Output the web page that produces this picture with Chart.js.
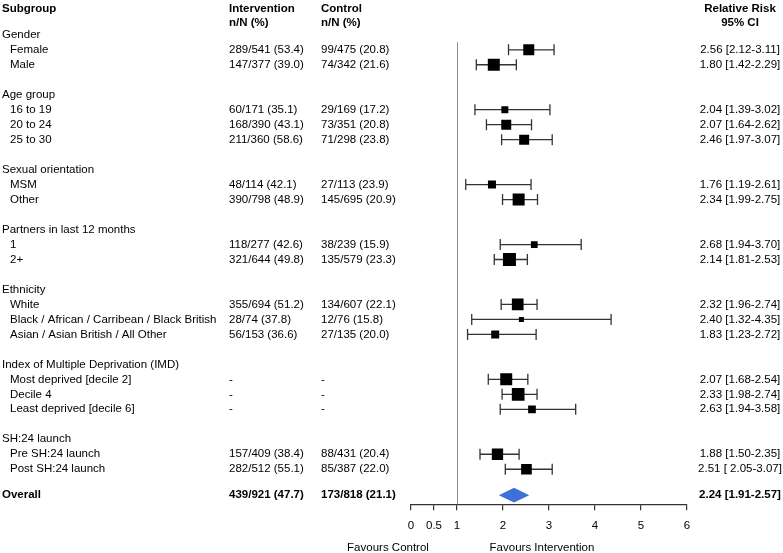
<!DOCTYPE html>
<html>
<head>
<meta charset="utf-8">
<script src="https://cdn.jsdelivr.net/npm/chart.js@4"></script>
<style>
  html, body { margin: 0; padding: 0; background: #fff; }
  #wrap { width: 783px; height: 553px; position: relative; }
</style>
</head>
<body>
<div id="wrap"><canvas id="forest"></canvas></div>
<script>
// Subgroup forest plot: relative risk with 95% CI per subgroup

const groups = [
  "Gender",
  "Age group",
  "Sexual orientation",
  "Partners in last 12 months",
  "Ethnicity",
  "Index of Multiple Deprivation (IMD)",
  "SH:24 launch",
];
const subgroups = [
  ["Female", "Male"],
  ["16 to 19", "20 to 24", "25 to 30"],
  ["MSM", "Other"],
  ["1", "2+"],
  ["White", "Black / African / Carribean / Black British", "Asian / Asian British / All Other"],
  ["Most deprived [decile 2]", "Decile 4", "Least deprived [decile 6]"],
  ["Pre SH:24 launch", "Post SH:24 launch"],
];
const interventionText = [
  "289/541 (53.4)", "147/377 (39.0)",
  "60/171 (35.1)", "168/390 (43.1)", "211/360 (58.6)",
  "48/114 (42.1)", "390/798 (48.9)",
  "118/277 (42.6)", "321/644 (49.8)",
  "355/694 (51.2)", "28/74 (37.8)", "56/153 (36.6)",
  "-", "-", "-",
  "157/409 (38.4)", "282/512 (55.1)",
];
const controlText = [
  "99/475 (20.8)", "74/342 (21.6)",
  "29/169 (17.2)", "73/351 (20.8)", "71/298 (23.8)",
  "27/113 (23.9)", "145/695 (20.9)",
  "38/239 (15.9)", "135/579 (23.3)",
  "134/607 (22.1)", "12/76 (15.8)", "27/135 (20.0)",
  "-", "-", "-",
  "88/431 (20.4)", "85/387 (22.0)",
];
const riskRatio = [2.56, 1.80, 2.04, 2.07, 2.46, 1.76, 2.34, 2.68, 2.14, 2.32, 2.40, 1.83, 2.07, 2.33, 2.63, 1.88, 2.51];
const ciLower  = [2.12, 1.42, 1.39, 1.64, 1.97, 1.19, 1.99, 1.94, 1.81, 1.96, 1.32, 1.23, 1.68, 1.98, 1.94, 1.50, 2.05];
const ciUpper  = [3.11, 2.29, 3.02, 2.62, 3.07, 2.61, 2.75, 3.70, 2.53, 2.74, 4.35, 2.72, 2.54, 2.74, 3.58, 2.35, 3.07];
const rrText = [
  "2.56 [2.12-3.11]", "1.80 [1.42-2.29]",
  "2.04 [1.39-3.02]", "2.07 [1.64-2.62]", "2.46 [1.97-3.07]",
  "1.76 [1.19-2.61]", "2.34 [1.99-2.75]",
  "2.68 [1.94-3.70]", "2.14 [1.81-2.53]",
  "2.32 [1.96-2.74]", "2.40 [1.32-4.35]", "1.83 [1.23-2.72]",
  "2.07 [1.68-2.54]", "2.33 [1.98-2.74]", "2.63 [1.94-3.58]",
  "1.88 [1.50-2.35]", "2.51 [ 2.05-3.07]",
];
// relative study weight (drives square size)
const weights = [11, 12, 7, 10, 10, 8, 12, 6.7, 13, 11.7, 5, 8, 12, 12.7, 7.7, 11.3, 10.7];

const overall = { label: "Overall", intervention: "439/921 (47.7)", control: "173/818 (21.1)", rr: 2.24, lo: 1.91, hi: 2.57, text: "2.24 [1.91-2.57]" };

const xTicks = [0, 0.5, 1, 2, 3, 4, 5, 6];

const FONT = '"Liberation Sans", Arial, Helvetica, sans-serif';
const FSIZE = 11.5;

// build row layout: group header, its subgroups, then a blank row
const headerRows = [];
const itemRows = [];
(function buildRows() {
  let r = 0;
  groups.forEach((g, gi) => {
    headerRows.push(r++);
    subgroups[gi].forEach(() => itemRows.push(r++));
    r++;
  });
})();
const OVERALL_ROW = 30.73;
const itemLabels = subgroups.flat();

const points = riskRatio.map((v, i) => ({ x: v, y: itemRows[i] }));

// error bars, diamond and reference line
const forestPlugin = {
  id: "forest",
  beforeDatasetsDraw(chart) {
    const { ctx, scales: { x, y } } = chart;
    ctx.save();
    // reference line at RR = 1
    ctx.strokeStyle = "#8c8c8c";
    ctx.lineWidth = 1;
    ctx.beginPath();
    ctx.moveTo(Math.round(x.getPixelForValue(1)) + 0.5, y.getPixelForValue(0.5));
    ctx.lineTo(Math.round(x.getPixelForValue(1)) + 0.5, chart.chartArea.bottom);
    ctx.stroke();

    ctx.strokeStyle = "#333";
    ctx.lineWidth = 1.3;
    riskRatio.forEach((v, i) => {
      const py = y.getPixelForValue(itemRows[i]);
      const x0 = x.getPixelForValue(ciLower[i]);
      const x1 = x.getPixelForValue(ciUpper[i]);
      ctx.beginPath();
      ctx.moveTo(x0, py);
      ctx.lineTo(x1, py);
      ctx.moveTo(x0, py - 5.5);
      ctx.lineTo(x0, py + 5.5);
      ctx.moveTo(x1, py - 5.5);
      ctx.lineTo(x1, py + 5.5);
      ctx.stroke();
    });

    // overall diamond
    const oy = y.getPixelForValue(OVERALL_ROW);
    ctx.fillStyle = "#3f6fd9";
    ctx.beginPath();
    ctx.moveTo(x.getPixelForValue(overall.lo), oy);
    ctx.lineTo(x.getPixelForValue(overall.rr), oy - 7.3);
    ctx.lineTo(x.getPixelForValue(overall.hi), oy);
    ctx.lineTo(x.getPixelForValue(overall.rr), oy + 7.3);
    ctx.closePath();
    ctx.fill();
    ctx.restore();
  },
  afterDraw(chart) {
    const { ctx, scales: { y } } = chart;
    ctx.save();
    ctx.fillStyle = "#000";
    ctx.textBaseline = "middle";
    const put = (txt, px, row, bold, align) => {
      ctx.font = `${bold ? "bold " : ""}${FSIZE}px ${FONT}`;
      ctx.textAlign = align || "left";
      ctx.fillText(txt, px, typeof row === "number" ? y.getPixelForValue(row) : row.px);
    };

    // column headers
    put("Subgroup", 2, -1.72, true);
    put("Intervention", 229, -1.72, true);
    put("n/N (%)", 229, -0.78, true);
    put("Control", 321, -1.72, true);
    put("n/N (%)", 321, -0.78, true);
    put("Relative Risk", 740, -1.72, true, "center");
    put("95% CI", 740, -0.78, true, "center");

    groups.forEach((g, gi) => put(g, 2, headerRows[gi], false));
    itemLabels.forEach((lab, i) => {
      put(lab, 10, itemRows[i], false);
      put(interventionText[i], 229, itemRows[i], false);
      put(controlText[i], 321, itemRows[i], false);
      put(rrText[i], 740, itemRows[i], false, "center");
    });

    put(overall.label, 2, OVERALL_ROW, true);
    put(overall.intervention, 229, OVERALL_ROW, true);
    put(overall.control, 321, OVERALL_ROW, true);
    put(overall.text, 740, OVERALL_ROW, true, "center");

    // favours labels
    put("Favours Control", 388, { px: 548 }, false, "center");
    put("Favours Intervention", 542, { px: 548 }, false, "center");
    ctx.restore();
  },
};

document.addEventListener("DOMContentLoaded", () => {
  const ctx = document.getElementById("forest").getContext("2d");
  new Chart(ctx, {
    type: "scatter",
    data: {
      datasets: [
        {
          data: points,
          pointStyle: "rect",
          pointRadius: weights.map((w) => w / Math.SQRT2),
          pointHoverRadius: weights.map((w) => w / Math.SQRT2),
          backgroundColor: "#000",
          borderWidth: 0,
        },
      ],
    },
    options: {
      responsive: true,
      maintainAspectRatio: false,
      animation: false,
      events: [],
      layout: { padding: { left: 411, right: 96, top: 4, bottom: 11 } },
      plugins: { legend: { display: false }, tooltip: { enabled: false } },
      scales: {
        x: {
          type: "linear",
          min: 0,
          max: 6,
          afterBuildTicks: (axis) => {
            axis.ticks = xTicks.map((v) => ({ value: v }));
          },
          ticks: {
            color: "#000",
            padding: 9,
            maxRotation: 0,
            autoSkip: false,
            font: { family: FONT, size: FSIZE },
            callback: (v) => String(v),
          },
          grid: { drawOnChartArea: false, drawTicks: true, tickLength: 6, color: "#333", lineWidth: 1.2 },
          border: { display: true, color: "#333", width: 1.2 },
        },
        y: {
          type: "linear",
          min: -1.71,
          max: 31.333,
          reverse: true,
          display: false,
        },
      },
    },
    plugins: [forestPlugin],
  });
});
</script>
</body>
</html>
